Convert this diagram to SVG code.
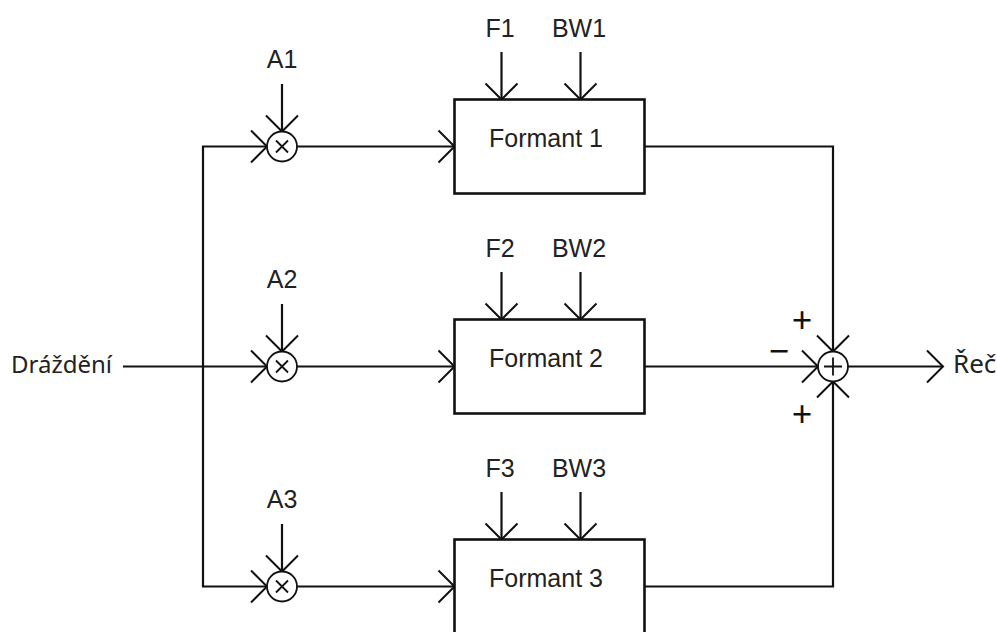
<svg xmlns="http://www.w3.org/2000/svg" width="997" height="632" viewBox="0 0 997 632">
<style>
.ln{fill:none;stroke:#111;stroke-width:2.2}
.box{fill:#fff;stroke:#111;stroke-width:2.6}
.cir{fill:#fff;stroke:#111;stroke-width:1.8}
.sym{stroke:#111;stroke-width:1.8;fill:none}
.lbl{font-family:"Liberation Sans",Arial,sans-serif;font-size:25px;fill:#222;text-anchor:middle}
.cal{font-family:"Noto Sans","Open Sans",sans-serif;font-size:24px;fill:#222}
.sgn{font-family:"Noto Sans","Open Sans",sans-serif;font-size:36px;fill:#111;text-anchor:middle}
</style>
<defs>
<marker id="arr" markerUnits="userSpaceOnUse" markerWidth="20" markerHeight="36" viewBox="-18 -18 20 36" refX="0" refY="0" orient="auto" overflow="visible">
<path d="M-16,-16 L0,0 L-16,16" fill="none" stroke="#111" stroke-width="2"/>
</marker>
</defs>
<g id="connectors">
<path class="ln" d="M123,366.5 H267" marker-end="url(#arr)"/>
<path class="ln" d="M203,366.5 V146.5 H267" marker-end="url(#arr)"/>
<path class="ln" d="M203,366.5 V586.5 H267" marker-end="url(#arr)"/>
<path class="ln" d="M297,146.5 H454.5" marker-end="url(#arr)"/>
<path class="ln" d="M297,366.5 H454.5" marker-end="url(#arr)"/>
<path class="ln" d="M297,586.5 H454.5" marker-end="url(#arr)"/>
<path class="ln" d="M282,84 V131.5" marker-end="url(#arr)"/>
<path class="ln" d="M282,304 V351.5" marker-end="url(#arr)"/>
<path class="ln" d="M282,524 V571.5" marker-end="url(#arr)"/>
<path class="ln" d="M501.5,52 V99.5" marker-end="url(#arr)"/>
<path class="ln" d="M580.5,52 V99.5" marker-end="url(#arr)"/>
<path class="ln" d="M501.5,272 V319.5" marker-end="url(#arr)"/>
<path class="ln" d="M580.5,272 V319.5" marker-end="url(#arr)"/>
<path class="ln" d="M501.5,492 V539.5" marker-end="url(#arr)"/>
<path class="ln" d="M580.5,492 V539.5" marker-end="url(#arr)"/>
<path class="ln" d="M644.5,146.5 H833 V351.5" marker-end="url(#arr)"/>
<path class="ln" d="M644.5,366.5 H818" marker-end="url(#arr)"/>
<path class="ln" d="M644.5,586.5 H833 V381.5" marker-end="url(#arr)"/>
<path class="ln" d="M848,366.5 H943" marker-end="url(#arr)"/>
</g>
<g id="input">
<text class="cal" x="11" y="373">Dráždění</text>
</g>
<g id="mult1">
<circle class="cir" cx="282" cy="146.5" r="15"/>
<path class="sym" d="M276,140.5 L288,152.5 M288,140.5 L276,152.5"/>
<text class="lbl" x="282" y="68">A1</text>
</g>
<g id="mult2">
<circle class="cir" cx="282" cy="366.5" r="15"/>
<path class="sym" d="M276,360.5 L288,372.5 M288,360.5 L276,372.5"/>
<text class="lbl" x="282" y="288">A2</text>
</g>
<g id="mult3">
<circle class="cir" cx="282" cy="586.5" r="15"/>
<path class="sym" d="M276,580.5 L288,592.5 M288,580.5 L276,592.5"/>
<text class="lbl" x="282" y="508">A3</text>
</g>
<g id="formant1">
<rect class="box" x="454.5" y="99.5" width="190" height="94"/>
<text class="lbl" x="546" y="147">Formant 1</text>
<text class="lbl" x="500" y="37">F1</text>
<text class="lbl" x="579" y="37">BW1</text>
</g>
<g id="formant2">
<rect class="box" x="454.5" y="319.5" width="190" height="94"/>
<text class="lbl" x="546" y="367">Formant 2</text>
<text class="lbl" x="500" y="257">F2</text>
<text class="lbl" x="579" y="257">BW2</text>
</g>
<g id="formant3">
<rect class="box" x="454.5" y="539.5" width="190" height="94"/>
<text class="lbl" x="546" y="587">Formant 3</text>
<text class="lbl" x="500" y="477">F3</text>
<text class="lbl" x="579" y="477">BW3</text>
</g>
<g id="sum">
<circle class="cir" cx="833" cy="366.5" r="15"/>
<path class="sym" d="M824,366.5 H842 M833,357.5 V375.5"/>
<text class="sgn" x="802" y="333">+</text>
<text class="sgn" x="779" y="364">−</text>
<text class="sgn" x="802" y="427">+</text>
</g>
<g id="output">
<text class="cal" x="953" y="373" style="font-size:26px">Řeč</text>
</g>
</svg>
